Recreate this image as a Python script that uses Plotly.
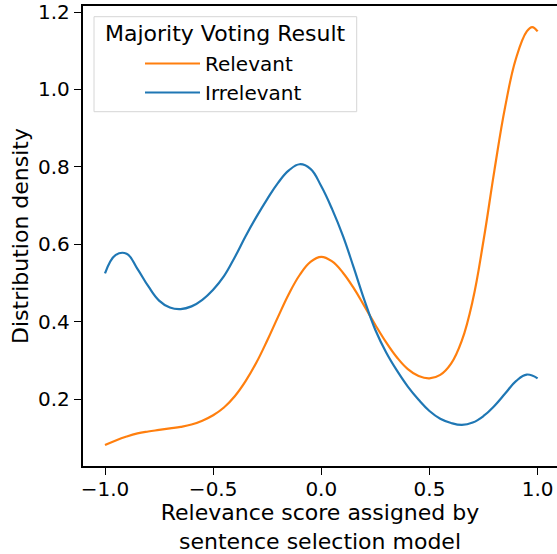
import plotly.graph_objects as go

# Relevance score grid (x) and read-off densities
relevant_x = [-1.00, -0.95, -0.90, -0.85, -0.80, -0.75, -0.70, -0.65, -0.60, -0.55,
              -0.50, -0.45, -0.40, -0.35, -0.30, -0.25, -0.20, -0.15, -0.10, -0.05,
              0.00, 0.05, 0.10, 0.15, 0.20, 0.25, 0.30, 0.35, 0.40, 0.45,
              0.50, 0.55, 0.60, 0.65, 0.70, 0.75, 0.80, 0.85, 0.90, 0.95, 0.975, 1.00]
relevant_y = [0.082, 0.094, 0.104, 0.112, 0.117, 0.121, 0.125, 0.129, 0.135, 0.145,
              0.159, 0.179, 0.208, 0.247, 0.295, 0.352, 0.413, 0.472, 0.521, 0.555,
              0.568, 0.556, 0.527, 0.487, 0.440, 0.392, 0.347, 0.308, 0.278, 0.260,
              0.254, 0.263, 0.292, 0.352, 0.455, 0.610, 0.790, 0.955, 1.080, 1.150, 1.161, 1.150]

irrelevant_x = [-1.00, -0.95, -0.90, -0.85, -0.80, -0.75, -0.70, -0.65, -0.60, -0.55,
                -0.50, -0.45, -0.40, -0.35, -0.30, -0.25, -0.20, -0.15, -0.10, -0.05,
                0.00, 0.05, 0.10, 0.15, 0.20, 0.25, 0.30, 0.35, 0.40, 0.45,
                0.50, 0.55, 0.60, 0.65, 0.70, 0.75, 0.80, 0.85, 0.90, 0.95, 1.00]
irrelevant_y = [0.525, 0.573, 0.576, 0.537, 0.492, 0.455, 0.437, 0.433, 0.440, 0.457,
                0.483, 0.518, 0.567, 0.621, 0.671, 0.717, 0.759, 0.791, 0.807, 0.795,
                0.750, 0.691, 0.622, 0.540, 0.455, 0.379, 0.321, 0.274, 0.233, 0.199,
                0.170, 0.150, 0.139, 0.134, 0.140, 0.157, 0.183, 0.215, 0.247, 0.264, 0.254]

x_ticks = [-1.0, -0.5, 0.0, 0.5, 1.0]
y_ticks = [0.2, 0.4, 0.6, 0.8, 1.0, 1.2]

FONT = "DejaVu Sans"

fig = go.Figure()
fig.add_trace(go.Scatter(x=relevant_x, y=relevant_y, mode="lines", name="Relevant",
                         line=dict(color="#ff7f0e", width=2.2, shape="spline", smoothing=1.2),
                         legendgroup="a"))
fig.add_trace(go.Scatter(x=irrelevant_x, y=irrelevant_y, mode="lines", name="Irrelevant",
                         line=dict(color="#1f77b4", width=2.2, shape="spline", smoothing=1.2),
                         legendgroup="b"))

L, T, R, B = 83, 6, 0, 88
W, H = 557, 554
pw, ph = W - L - R, H - T - B

def px2paper_x(px):
    return (px - L) / pw

def px2paper_y(py):
    return (H - B - py) / ph

# legend frame
fx0, fx1 = px2paper_x(94), px2paper_x(356.7)
fy0, fy1 = px2paper_y(111.7), px2paper_y(16.7)
fig.add_shape(type="rect", xref="paper", yref="paper", x0=fx0, x1=fx1, y0=fy0, y1=fy1,
              line=dict(color="#d6d6d6", width=1), fillcolor="rgba(255,255,255,0.8)", layer="above")
fig.add_annotation(text="Majority Voting Result", xref="paper", yref="paper",
                   x=px2paper_x(225), y=px2paper_y(34), xanchor="center", yanchor="middle",
                   showarrow=False, font=dict(family=FONT, size=22, color="black"))

axis_common = dict(showline=True, linecolor="black", linewidth=1.5, ticks="outside",
                   ticklen=7.5, tickwidth=1.3, tickcolor="black", showgrid=False, zeroline=False,
                   tickfont=dict(family=FONT, size=20, color="black"), tickformat=".1f")

fig.update_layout(
    width=W, height=H,
    margin=dict(l=L, r=R, t=T, b=B, autoexpand=False),
    paper_bgcolor="white", plot_bgcolor="white",
    font=dict(family=FONT, color="black"),
    xaxis=dict(range=[-1.1017, 1.0897], tickvals=x_ticks, mirror=True, ticklabelstandoff=-3,
               title=dict(text="Relevance score assigned by<br>sentence selection model",
                          font=dict(family=FONT, size=22), standoff=10),
               **axis_common),
    yaxis=dict(range=[0.0279, 1.2155], tickvals=y_ticks, mirror=False,
               title=dict(text="Distribution density", font=dict(family=FONT, size=22), standoff=3),
               **axis_common),
    legend=dict(x=px2paper_x(140), y=px2paper_y(44), xanchor="left", yanchor="top",
                bgcolor="rgba(0,0,0,0)", borderwidth=0, itemwidth=55,
                tracegroupgap=0, font=dict(family=FONT, size=20, color="black")),
    showlegend=True,
)

fig.write_html("out.html", config={"displayModeBar": False},
               post_script="document.body.style.margin='0';document.body.style.padding='0';")
